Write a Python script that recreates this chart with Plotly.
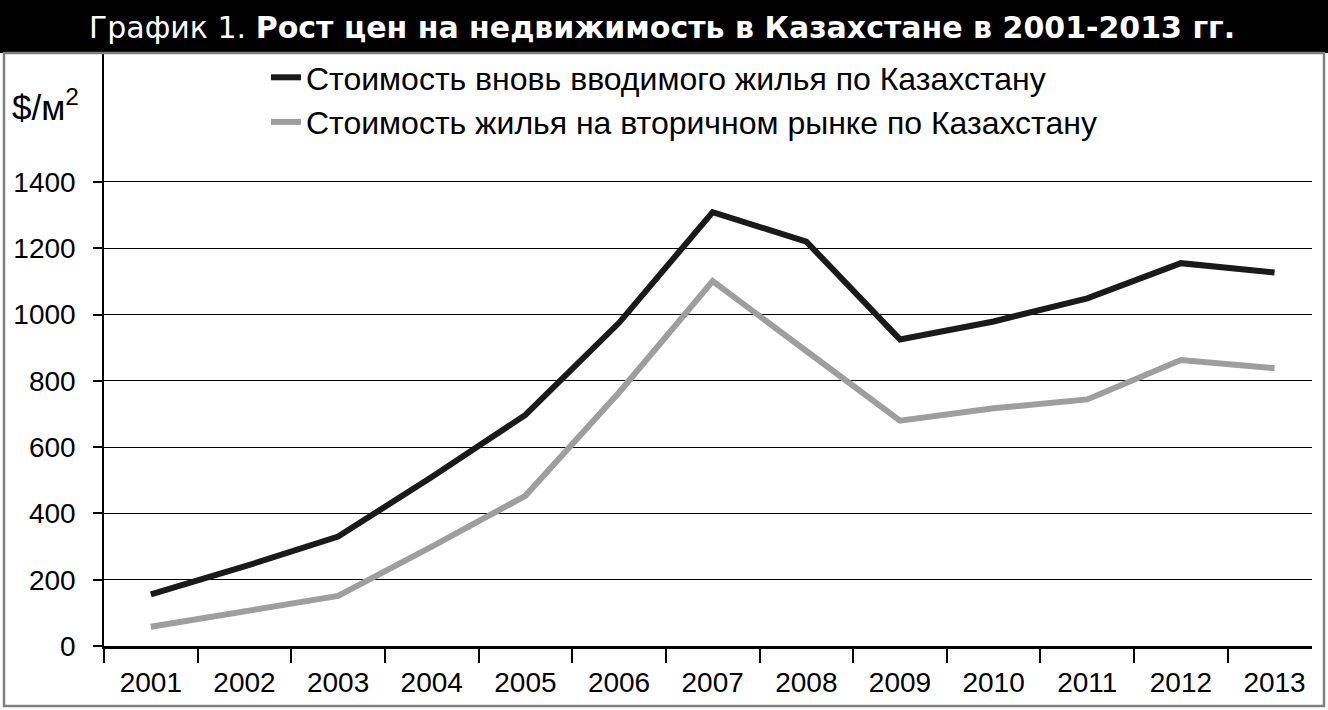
import plotly.graph_objects as go

# ── Data ────────────────────────────────────────────────────────────────────
years = ["2001", "2002", "2003", "2004", "2005", "2006", "2007",
         "2008", "2009", "2010", "2011", "2012", "2013"]
new_housing = [156, 240, 330, 510, 697, 975, 1309, 1220, 925, 979, 1049, 1155, 1127]
secondary = [58, 103, 151, 300, 453, 765, 1101, 890, 680, 717, 744, 863, 838]
y_ticks = [0, 200, 400, 600, 800, 1000, 1200, 1400]

name_new = "Стоимость вновь вводимого жилья по Казахстану"
name_sec = "Стоимость жилья на вторичном рынке по Казахстану"

# ── Colours / fonts ─────────────────────────────────────────────────────────
DARK = "#1a1a1a"
GREY = "#9e9e9e"
FRAME = "#808080"
TEXT_FONT = "Liberation Sans, Arial, sans-serif"
TITLE_FONT = "DejaVu Sans, Noto Sans, sans-serif"

# plot area in pixels: x 104..1312, y 53..646 (figure 1328x710)
L, R, T, B = 104, 16, 53, 64
PW, PH = 1328 - L - R, 710 - T - B


def px(x):
    return (x - L) / PW


def py(y):
    return (710 - B - y) / PH


fig = go.Figure()

fig.add_trace(go.Scatter(
    x=years, y=new_housing, name=name_new, mode="lines",
    line=dict(color=DARK, width=6),
))
fig.add_trace(go.Scatter(
    x=years, y=secondary, name=name_sec, mode="lines",
    line=dict(color=GREY, width=6),
))

fig.update_layout(
    width=1328, height=710,
    paper_bgcolor="white",
    plot_bgcolor="white",
    margin=dict(l=L, r=R, t=T, b=B, autoexpand=False),
    font=dict(family=TEXT_FONT, color="black"),
    showlegend=True,
    legend=dict(
        x=px(266), y=py(50), xanchor="left", yanchor="top",
        font=dict(size=32, family=TEXT_FONT, color="black"),
        bgcolor="rgba(0,0,0,0)",
        tracegroupgap=0,
    ),
    xaxis=dict(
        type="category",
        range=[-0.5, 12.4],
        tickson="boundaries",
        ticks="outside", ticklen=14, tickwidth=1.5, tickcolor="black",
        showline=True, linecolor="black", linewidth=2.5,
        showgrid=False, zeroline=False,
        ticklabelstandoff=10,
        tickfont=dict(size=28, family=TEXT_FONT, color="black"),
    ),
    yaxis=dict(
        range=[0, 1789],
        tickvals=y_ticks,
        ticks="outside", ticklen=9, tickwidth=1.5, tickcolor="black",
        showline=True, linecolor="black", linewidth=1.5,
        showgrid=True, gridcolor="black", gridwidth=1.3,
        zeroline=False,
        ticklabelstandoff=12,
        tickfont=dict(size=28, family=TEXT_FONT, color="black"),
    ),
    shapes=[
        # black title bar
        dict(type="rect", xref="paper", yref="paper",
             x0=px(0), x1=px(1328), y0=py(53), y1=py(0),
             fillcolor="black", line=dict(width=0), layer="above"),
        # grey frame around the chart
        dict(type="rect", xref="paper", yref="paper",
             x0=px(4), x1=px(1324), y0=py(706), y1=py(53),
             fillcolor="rgba(0,0,0,0)", line=dict(color=FRAME, width=2.5),
             layer="above"),
    ],
    annotations=[
        dict(
            text="График 1. <b>Рост цен на недвижимость в Казахстане в 2001-2013 гг.</b>",
            xref="paper", yref="paper", x=px(662), y=py(27),
            xanchor="center", yanchor="middle", showarrow=False,
            font=dict(size=30, family=TITLE_FONT, color="white"),
        ),
        dict(
            text="$/м<sup>2</sup>",
            xref="paper", yref="paper", x=px(10), y=py(105),
            xanchor="left", yanchor="middle", showarrow=False,
            font=dict(size=35, family=TEXT_FONT, color="black"),
        ),
    ],
)

fig.write_html(
    "out.html",
    config={"displayModeBar": False},
    post_script="document.body.style.margin='0';document.body.style.overflow='hidden';",
)
